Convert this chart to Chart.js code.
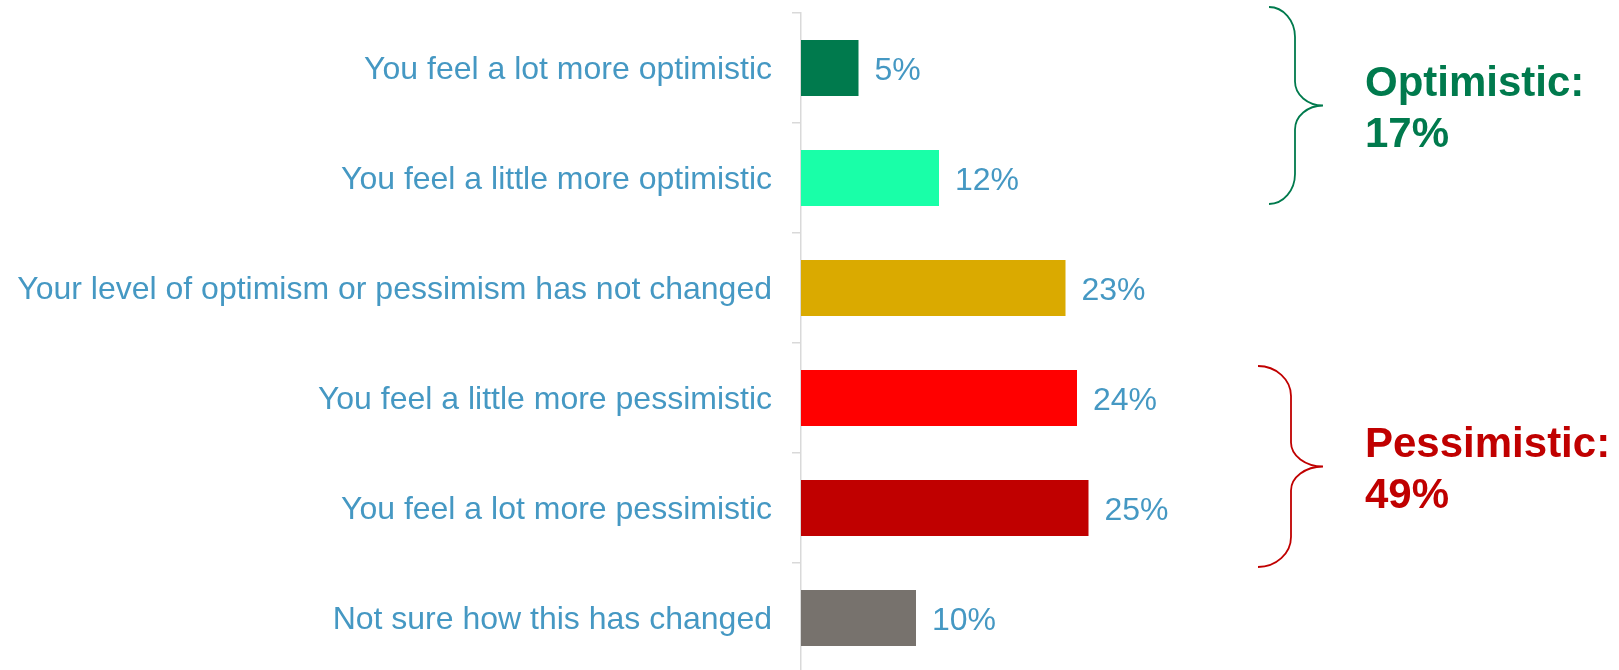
<!DOCTYPE html>
<html>
<head>
<meta charset="utf-8">
<title>Optimism</title>
<script src="https://cdn.jsdelivr.net/npm/chart.js@4/dist/chart.umd.min.js"></script>
<style>
  html, body { margin: 0; padding: 0; background: #fff; overflow: hidden; }
  #bar-chart { display: block; }
</style>
</head>
<body>
<canvas id="bar-chart" width="1619" height="673"></canvas>
<script>
const categories = [
  "You feel a lot more optimistic",
  "You feel a little more optimistic",
  "Your level of optimism or pessimism has not changed",
  "You feel a little more pessimistic",
  "You feel a lot more pessimistic",
  "Not sure how this has changed",
];
const values = [5, 12, 23, 24, 25, 10];
const barColors = ["#007A4D", "#19FFA8", "#DAAA00", "#FF0000", "#C00000", "#77726D"];

// bracketed groups on the right: first and last category index of each
const groupLabels = ["Optimistic:", "Pessimistic:"];
const groupTotals = [17, 49];
const groupRanges = [[0, 1], [3, 4]];
const groupColors = ["#007A4D", "#C00000"];

const blue = "#4598C3";
const font = "'Liberation Sans', Arial, sans-serif";

// value labels just right of each bar
const valueLabels = {
  id: "valueLabels",
  afterDatasetsDraw(chart) {
    const ctx = chart.ctx;
    const meta = chart.getDatasetMeta(0);
    ctx.save();
    ctx.font = "32px " + font;
    ctx.fillStyle = blue;
    ctx.textAlign = "left";
    ctx.textBaseline = "middle";
    meta.data.forEach((bar, i) => {
      ctx.fillText(values[i] + "%", bar.x + 16, bar.y + 3);
    });
    ctx.restore();
  },
};

// curly braces with the group totals
const groupBraces = {
  id: "groupBraces",
  afterDraw(chart) {
    const ctx = chart.ctx;
    const y = chart.scales.y;
    const shapes = [
      { top: -61, bottom: 26, left: 1269, mid: 1295, tip: 1323 },
      { top: -32, bottom: 59, left: 1258, mid: 1291, tip: 1323 },
    ];
    const k = 0.55;
    ctx.save();
    groupRanges.forEach((range, g) => {
      const s = shapes[g];
      const top = y.getPixelForValue(range[0]) + s.top;
      const bottom = y.getPixelForValue(range[1]) + s.bottom;
      const c = (top + bottom) / 2;
      const r1 = 30; // end curls
      const r2 = 24; // middle point
      const w1 = s.mid - s.left;
      const w2 = s.tip - s.mid;
      ctx.strokeStyle = groupColors[g];
      ctx.lineWidth = 1.8;
      ctx.beginPath();
      ctx.moveTo(s.left, top);
      ctx.bezierCurveTo(s.left + k * w1, top, s.mid, top + r1 - k * r1, s.mid, top + r1);
      ctx.lineTo(s.mid, c - r2);
      ctx.bezierCurveTo(s.mid, c - r2 + k * r2, s.tip - k * w2, c, s.tip, c);
      ctx.bezierCurveTo(s.tip - k * w2, c, s.mid, c + r2 - k * r2, s.mid, c + r2);
      ctx.lineTo(s.mid, bottom - r1);
      ctx.bezierCurveTo(s.mid, bottom - r1 + k * r1, s.left + k * w1, bottom, s.left, bottom);
      ctx.stroke();

      ctx.fillStyle = groupColors[g];
      ctx.font = "bold 42px " + font;
      ctx.textAlign = "left";
      ctx.textBaseline = "alphabetic";
      ctx.fillText(groupLabels[g], 1365, c - 10);
      ctx.fillText(groupTotals[g] + "%", 1365, c + 41);
    });
    ctx.restore();
  },
};

new Chart(document.getElementById("bar-chart"), {
  type: "bar",
  data: {
    labels: categories,
    datasets: [
      {
        data: values,
        backgroundColor: barColors,
        borderWidth: 0,
        categoryPercentage: 1,
        barPercentage: 0.51,
      },
    ],
  },
  options: {
    indexAxis: "y",
    responsive: false,
    animation: false,
    devicePixelRatio: 1,
    events: [],
    layout: { padding: { top: 13, right: 128, bottom: 0, left: 0 } },
    plugins: {
      legend: { display: false },
      tooltip: { enabled: false },
    },
    scales: {
      x: { display: false, min: 0, max: 60 },
      y: {
        afterFit: (scale) => {
          scale.width = 801;
          scale.paddingTop = 0;
          scale.paddingBottom = 0;
        },
        grid: {
          drawOnChartArea: false,
          drawTicks: true,
          tickLength: 9,
          color: "#D9D9D9",
          lineWidth: 1.5,
        },
        border: { display: true, color: "#D9D9D9", width: 1.5 },
        ticks: {
          color: blue,
          padding: 20,
          labelOffset: 2,
          font: { family: font, size: 32 },
        },
      },
    },
  },
  plugins: [valueLabels, groupBraces],
});
</script>
</body>
</html>
